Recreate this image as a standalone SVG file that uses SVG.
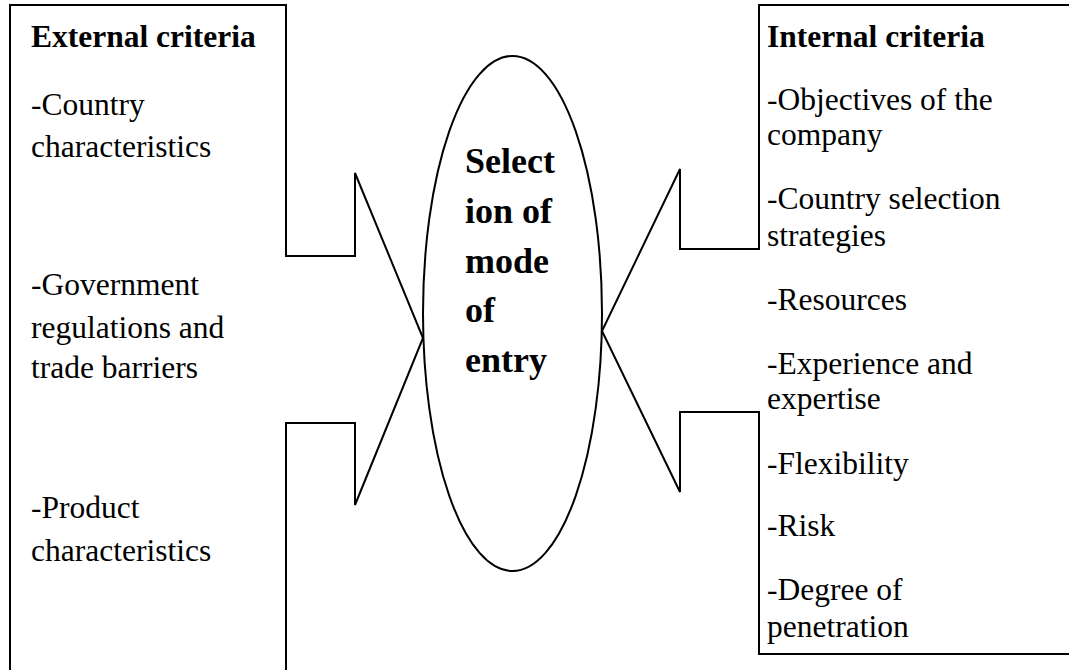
<svg xmlns="http://www.w3.org/2000/svg" width="1069" height="670" viewBox="0 0 1069 670">
<style>
.shape{fill:none;stroke:#000;stroke-width:2;stroke-linejoin:miter}
.t{font-family:"Liberation Serif","Times New Roman",serif;font-size:31.5px;fill:#000}
.b{font-weight:bold}
.c{font-family:"Liberation Serif","Times New Roman",serif;font-size:36px;font-weight:bold;fill:#000}
</style>
<rect width="1069" height="670" fill="#fff"/>
<g id="external">
<path class="shape" d="M10,680 L10,5 L286,5 L286,256 L355,256 L355,173 L423,338 L355,505 L355,423 L286,423 L286,680"/>
<text class="t b" x="31" y="47">External criteria</text>
<text class="t" x="31" y="115">-Country</text>
<text class="t" x="31" y="157">characteristics</text>
<text class="t" x="31" y="295">-Government</text>
<text class="t" x="31" y="338">regulations and</text>
<text class="t" x="31" y="378">trade barriers</text>
<text class="t" x="31" y="518">-Product</text>
<text class="t" x="31" y="561">characteristics</text>
</g>
<g id="internal">
<path class="shape" d="M1080,5 L759,5 L759,249 L680,249 L680,169 L602,331 L680,492 L680,412 L759,412 L759,654 L1080,654"/>
<text class="t b" x="767" y="47">Internal criteria</text>
<text class="t" x="767" y="110">-Objectives of the</text>
<text class="t" x="767" y="145">company</text>
<text class="t" x="767" y="209">-Country selection</text>
<text class="t" x="767" y="246">strategies</text>
<text class="t" x="767" y="310">-Resources</text>
<text class="t" x="767" y="374">-Experience and</text>
<text class="t" x="767" y="409">expertise</text>
<text class="t" x="767" y="474">-Flexibility</text>
<text class="t" x="767" y="536">-Risk</text>
<text class="t" x="767" y="600">-Degree of</text>
<text class="t" x="767" y="637">penetration</text>
</g>
<g id="center">
<ellipse class="shape" cx="512.5" cy="313.5" rx="89.5" ry="257.5"/>
<text class="c" x="465" y="173">Select</text>
<text class="c" x="465" y="223">ion of</text>
<text class="c" x="465" y="273">mode</text>
<text class="c" x="465" y="322">of</text>
<text class="c" x="465" y="372">entry</text>
</g>
<g id="connectors"></g>
</svg>
